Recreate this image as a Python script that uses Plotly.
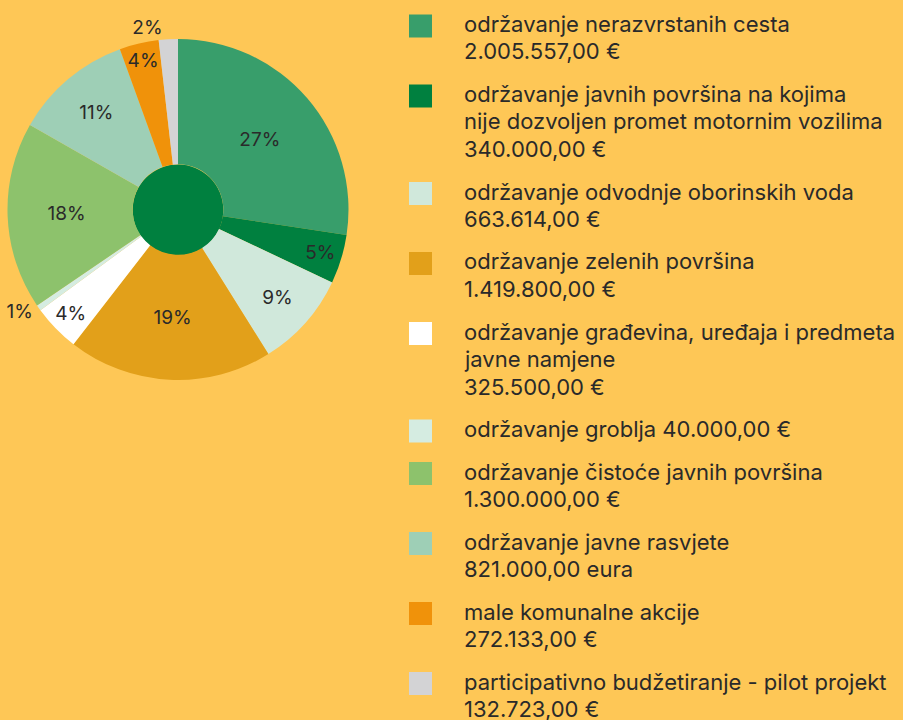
import plotly.graph_objects as go

# ---- data ----
categories = [
    "održavanje nerazvrstanih cesta",
    "održavanje javnih površina na kojima<br>nije dozvoljen promet motornim vozilima",
    "održavanje odvodnje oborinskih voda",
    "održavanje zelenih površina",
    "održavanje građevina, uređaja i predmeta<br>javne namjene",
    "održavanje groblja",
    "održavanje čistoće javnih površina",
    "održavanje javne rasvjete",
    "male komunalne akcije",
    "participativno budžetiranje - pilot projekt",
]
amounts = [2005557.00, 340000.00, 663614.00, 1419800.00, 325500.00,
           40000.00, 1300000.00, 821000.00, 272133.00, 132723.00]
amount_labels = ["2.005.557,00 €", "340.000,00 €", "663.614,00 €", "1.419.800,00 €",
                 "325.500,00 €", "40.000,00 €", "1.300.000,00 €", "821.000,00 eura",
                 "272.133,00 €", "132.723,00 €"]
amount_on_same_line = [False, False, False, False, False, True, False, False, False, False]
colors = ["#389E6B", "#00803F", "#D0E8DB", "#E2A01A", "#FFFFFF",
          "#D5ECE1", "#8DC26C", "#9ECFB6", "#F0920A", "#D3D3D5"]
label_positions = ["inside", "inside", "inside", "inside", "inside",
                   "outside", "inside", "inside", "inside", "outside"]

BG = "#FEC756"
TEXT = "#2A2A2A"
W, H = 903, 720


def fx(px):
    return px / W


def fy(py):
    return 1 - py / H


fig = go.Figure()
fig.add_trace(go.Pie(
    values=amounts,
    labels=[c.replace("<br>", " ") for c in categories],
    sort=False,
    direction="clockwise",
    rotation=0,
    hole=0.266,
    marker=dict(colors=colors, line=dict(width=0)),
    texttemplate="%{percent:.0%}",
    textposition=label_positions,
    insidetextorientation="horizontal",
    textfont=dict(family="Inter", size=19, color=TEXT),
    domain=dict(x=[fx(7.5), fx(348.5)], y=[fy(380), fy(39)]),
    showlegend=False,
    hoverinfo="label+value+percent",
))

# centre disk
fig.add_shape(type="circle", xref="paper", yref="paper",
              x0=fx(132.7), x1=fx(223.3), y0=fy(255.5), y1=fy(164.5),
              fillcolor="#00803F", line=dict(width=0), layer="below")

# custom legend
LINE = 27.5
y_center = 26.0
sq = 23
for cat, amt, same, col in zip(categories, amount_labels, amount_on_same_line, colors):
    label = cat + (" " if same else "<br>") + amt
    lines = label.split("<br>")
    fig.add_shape(type="rect", xref="paper", yref="paper",
                  x0=fx(409), x1=fx(409 + sq),
                  y0=fy(y_center + sq / 2), y1=fy(y_center - sq / 2),
                  fillcolor=col, line=dict(width=0))
    for i, ln in enumerate(lines):
        fig.add_annotation(xref="paper", yref="paper", x=fx(462),
                           y=fy(y_center - 2 + i * LINE),
                           xanchor="left", yanchor="middle", align="left",
                           text=ln, showarrow=False,
                           font=dict(family="Inter", size=22, color=TEXT))
    y_center += 15 + LINE * len(lines)

fig.update_layout(
    width=W, height=H,
    margin=dict(l=0, r=0, t=0, b=0),
    paper_bgcolor=BG, plot_bgcolor=BG,
    showlegend=False,
    uniformtext=dict(minsize=19, mode="show"),
)

fig.write_html("out.html", config={"displayModeBar": False},
               post_script="document.body.style.margin='0px';")
